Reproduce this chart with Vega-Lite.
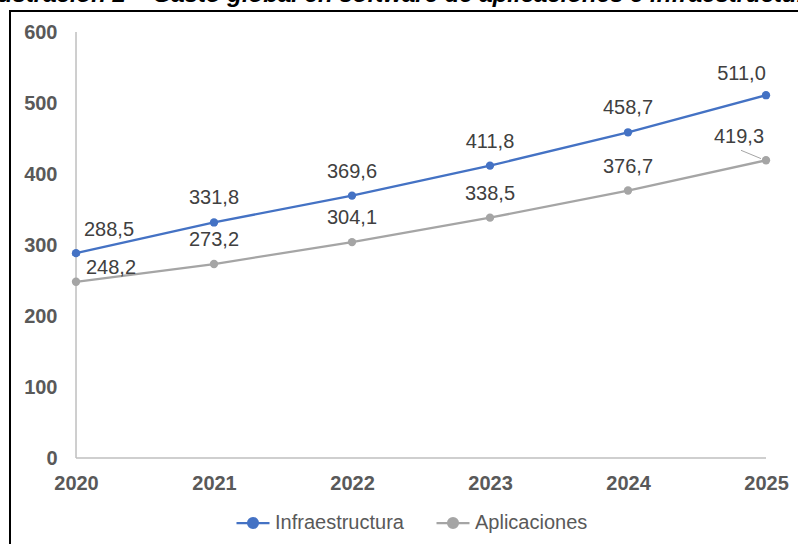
{
  "$schema": "https://vega.github.io/schema/vega-lite/v6.json",
  "width": 798,
  "height": 544,
  "autosize": {"type": "none"},
  "padding": {"left": 10, "top": 11, "right": -10, "bottom": -11},
  "background": "white",
  "title": {
    "text": "Ilustración 2 – Gasto global en software de aplicaciones e infraestructura",
    "font": "Liberation Sans",
    "fontSize": 24,
    "fontWeight": "bold",
    "fontStyle": "italic",
    "color": "#000000",
    "anchor": "middle",
    "frame": "group",
    "offset": 4,
    "dx": -7
  },
  "config": {
    "view": {"stroke": "#000000", "strokeWidth": 2},
    "font": "Liberation Sans",
    "locale": {"number": {"decimal": ",", "thousands": ".", "grouping": [3], "currency": ["", " €"]}}
  },
  "data": {
    "values": [
      {"year": 2020, "serie": "Infraestructura", "value": 288.5},
      {"year": 2021, "serie": "Infraestructura", "value": 331.8},
      {"year": 2022, "serie": "Infraestructura", "value": 369.6},
      {"year": 2023, "serie": "Infraestructura", "value": 411.8},
      {"year": 2024, "serie": "Infraestructura", "value": 458.7},
      {"year": 2025, "serie": "Infraestructura", "value": 511.0},
      {"year": 2020, "serie": "Aplicaciones", "value": 248.2},
      {"year": 2021, "serie": "Aplicaciones", "value": 273.2},
      {"year": 2022, "serie": "Aplicaciones", "value": 304.1},
      {"year": 2023, "serie": "Aplicaciones", "value": 338.5},
      {"year": 2024, "serie": "Aplicaciones", "value": 376.7},
      {"year": 2025, "serie": "Aplicaciones", "value": 419.3}
    ]
  },
  "layer": [
    {
      "data": {"values": [{}]},
      "mark": {"type": "rule", "color": "#bfbfbf", "strokeWidth": 1.5},
      "encoding": {
        "x": {"datum": 2020, "type": "quantitative"},
        "y": {"datum": 0, "type": "quantitative"},
        "y2": {"datum": 600}
      }
    },
    {
      "data": {"values": [{}]},
      "mark": {"type": "rule", "color": "#bfbfbf", "strokeWidth": 1.5},
      "encoding": {
        "x": {"datum": 2020, "type": "quantitative"},
        "x2": {"datum": 2025},
        "y": {"datum": 0, "type": "quantitative"}
      }
    },
    {
      "mark": {"type": "line", "strokeWidth": 2.25},
      "encoding": {
        "x": {
          "field": "year", "type": "quantitative",
          "scale": {"domain": [2019.5217, 2025.3043], "nice": false, "zero": false},
          "axis": {
            "values": [2020, 2021, 2022, 2023, 2024, 2025],
            "format": "d", "title": null, "domain": false, "ticks": false, "tickSize": 0, "grid": false,
            "offset": -97, "labelPadding": 15,
            "labelFont": "Liberation Sans", "labelFontSize": 20, "labelFontWeight": "bold", "labelColor": "#595959"
          }
        },
        "y": {
          "field": "value", "type": "quantitative",
          "scale": {"domain": [-136.62, 629.58], "nice": false, "zero": false},
          "axis": {
            "values": [0, 100, 200, 300, 400, 500, 600],
            "format": "d", "title": null, "domain": false, "ticks": false, "tickSize": 0, "grid": false,
            "offset": -66, "labelPadding": 19,
            "labelFont": "Liberation Sans", "labelFontSize": 20, "labelFontWeight": "bold", "labelColor": "#595959"
          }
        },
        "color": {
          "field": "serie", "type": "nominal",
          "scale": {"domain": ["Infraestructura", "Aplicaciones"], "range": ["#4472C4", "#A5A5A5"]},
          "legend": {
            "orient": "none", "legendX": 225, "legendY": 494, "direction": "horizontal", "title": null,
            "padding": 0,
            "symbolType": "M -1 0 L 1 0 M 0.3 0 A 0.3 0.3 0 1 1 -0.3 0 A 0.3 0.3 0 1 1 0.3 0 Z",
            "symbolSize": 1089, "symbolStrokeWidth": 2.25,
            "labelFont": "Liberation Sans", "labelFontSize": 20, "labelColor": "#595959",
            "labelOffset": 4, "columnPadding": 28,
            "encode": {"symbols": {"update": {"fill": {"scale": "color", "field": "value"}, "stroke": {"scale": "color", "field": "value"}}}}
          }
        }
      }
    },
    {
      "mark": {"type": "point", "filled": true, "size": 70, "opacity": 1},
      "encoding": {
        "x": {"field": "year", "type": "quantitative"},
        "y": {"field": "value", "type": "quantitative"},
        "color": {"field": "serie", "type": "nominal"}
      }
    },
    {
      "transform": [{"filter": "datum.year > 2020 && datum.year < 2025"}],
      "mark": {"type": "text", "dy": -24, "align": "center", "baseline": "middle", "fontSize": 20, "color": "#404040", "font": "Liberation Sans"},
      "encoding": {
        "x": {"field": "year", "type": "quantitative"},
        "y": {"field": "value", "type": "quantitative"},
        "text": {"field": "value", "type": "quantitative", "format": ".1f"}
      }
    },
    {
      "transform": [{"filter": "datum.year == 2020 && datum.serie == 'Infraestructura'"}],
      "mark": {"type": "text", "dx": 33, "dy": -23, "align": "center", "baseline": "middle", "fontSize": 20, "color": "#404040", "font": "Liberation Sans"},
      "encoding": {
        "x": {"field": "year", "type": "quantitative"},
        "y": {"field": "value", "type": "quantitative"},
        "text": {"field": "value", "type": "quantitative", "format": ".1f"}
      }
    },
    {
      "transform": [{"filter": "datum.year == 2020 && datum.serie == 'Aplicaciones'"}],
      "mark": {"type": "text", "dx": 35, "dy": -14, "align": "center", "baseline": "middle", "fontSize": 20, "color": "#404040", "font": "Liberation Sans"},
      "encoding": {
        "x": {"field": "year", "type": "quantitative"},
        "y": {"field": "value", "type": "quantitative"},
        "text": {"field": "value", "type": "quantitative", "format": ".1f"}
      }
    },
    {
      "transform": [{"filter": "datum.year == 2025 && datum.serie == 'Infraestructura'"}],
      "mark": {"type": "text", "dx": -24.5, "dy": -21, "align": "center", "baseline": "middle", "fontSize": 20, "color": "#404040", "font": "Liberation Sans"},
      "encoding": {
        "x": {"field": "year", "type": "quantitative"},
        "y": {"field": "value", "type": "quantitative"},
        "text": {"field": "value", "type": "quantitative", "format": ".1f"}
      }
    },
    {
      "transform": [{"filter": "datum.year == 2025 && datum.serie == 'Aplicaciones'"}],
      "mark": {"type": "text", "dx": -27, "dy": -23, "align": "center", "baseline": "middle", "fontSize": 20, "color": "#404040", "font": "Liberation Sans"},
      "encoding": {
        "x": {"field": "year", "type": "quantitative"},
        "y": {"field": "value", "type": "quantitative"},
        "text": {"field": "value", "type": "quantitative", "format": ".1f"}
      }
    },
    {
      "transform": [{"filter": "datum.year == 2025 && datum.serie == 'Aplicaciones'"}],
      "mark": {"type": "rule", "color": "#A5A5A5", "strokeWidth": 1, "xOffset": -25, "yOffset": -10, "x2Offset": -5, "y2Offset": -1.7},
      "encoding": {
        "x": {"field": "year", "type": "quantitative"},
        "y": {"field": "value", "type": "quantitative"},
        "x2": {"field": "year"},
        "y2": {"field": "value"}
      }
    }
  ]
}
